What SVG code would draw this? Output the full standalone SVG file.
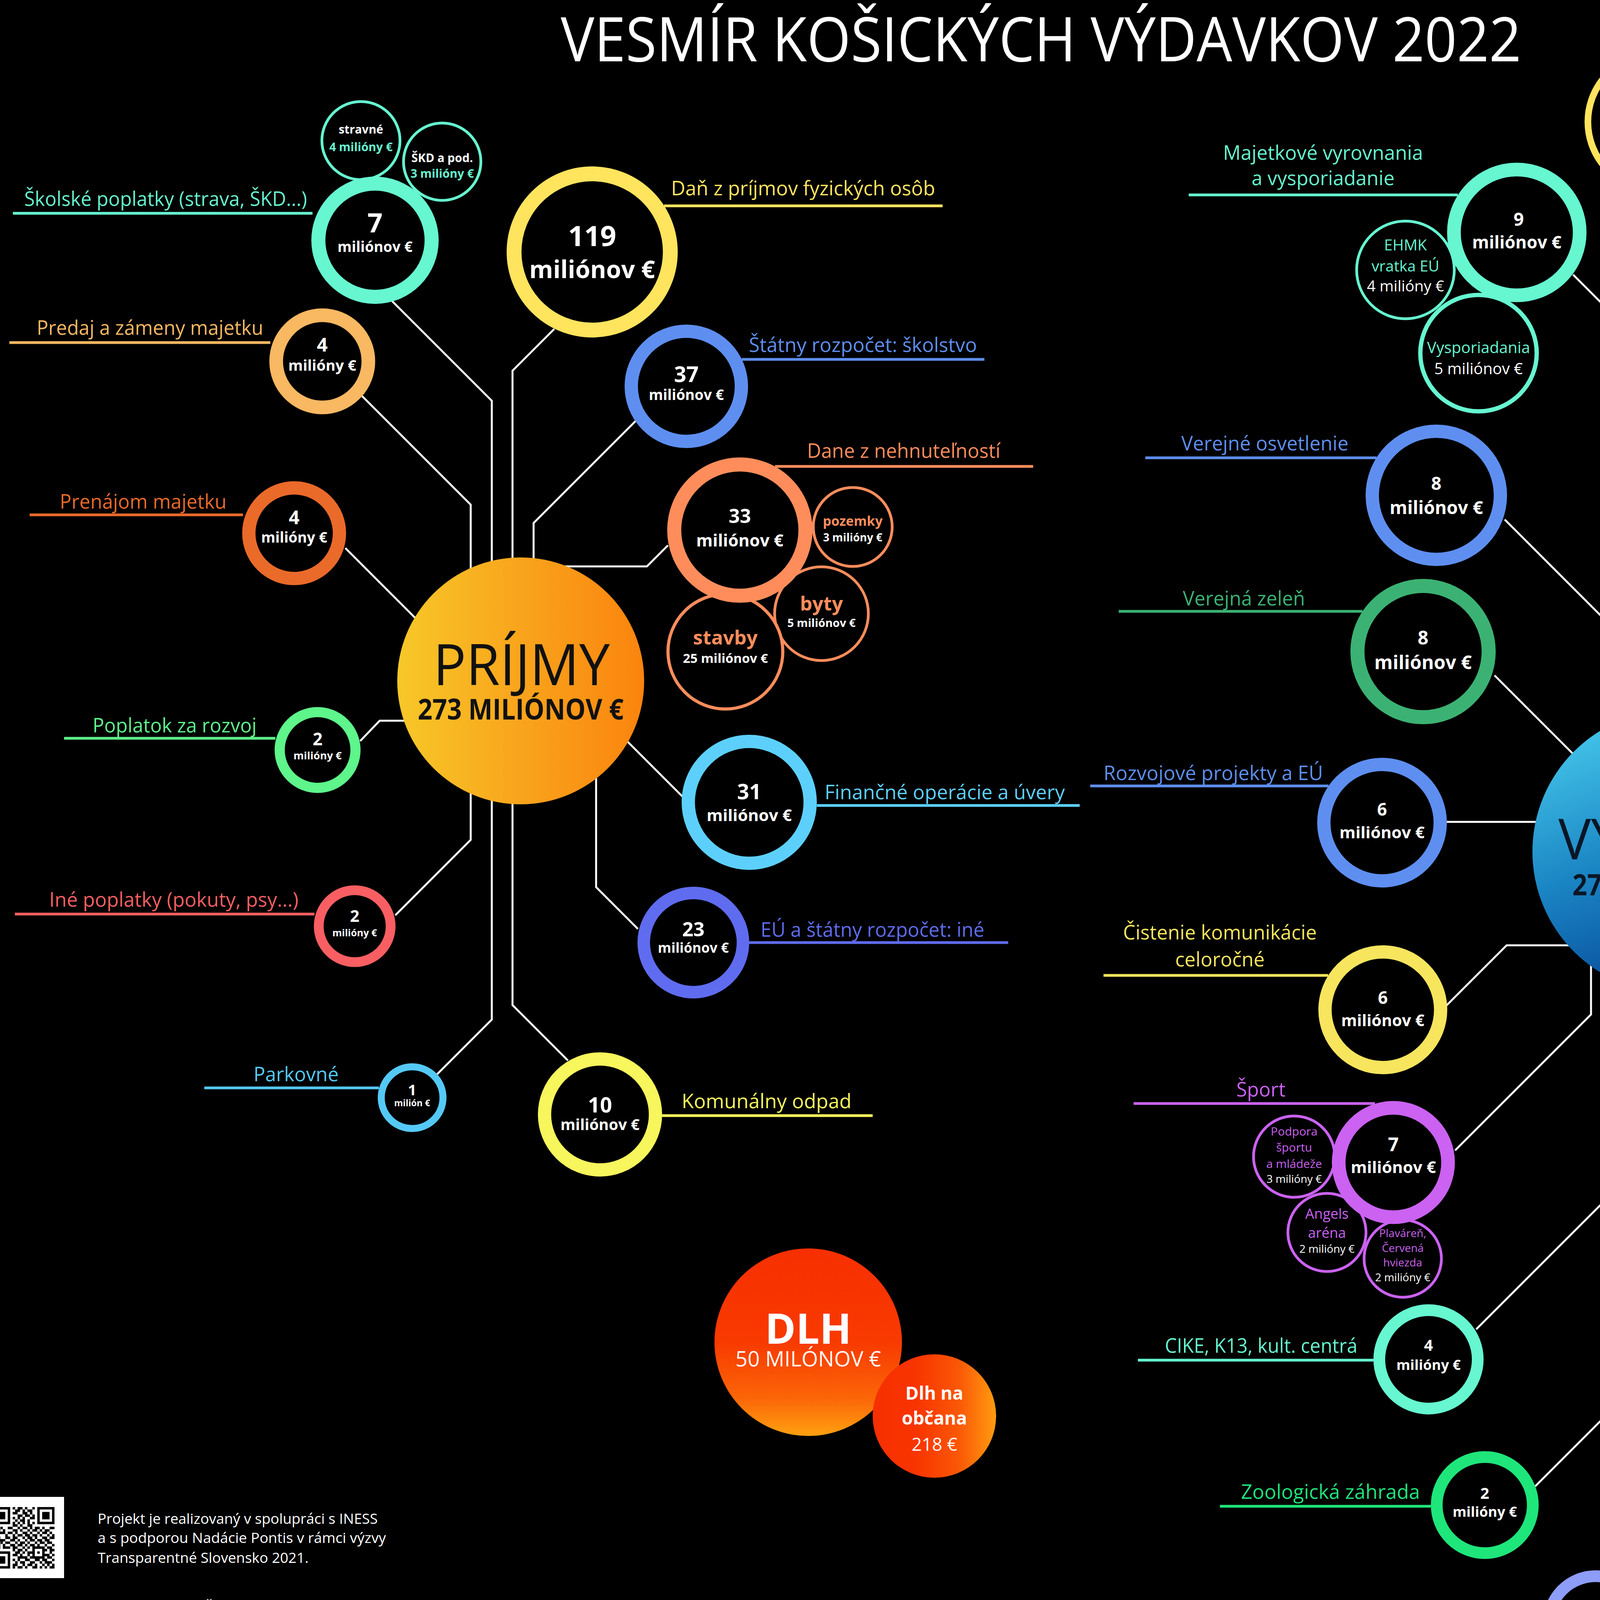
<svg xmlns="http://www.w3.org/2000/svg" width="5987" height="4416" viewBox="0 0 5987 4416">
<defs>
<style>
text{font-family:'Open Sans','Noto Sans','DejaVu Sans',sans-serif}
.t{font-size:52px}
.m{text-anchor:middle}
.b{font-weight:700}
.w{fill:#fff}
.ring{fill:#000}
.conn{fill:none;stroke:#fff;stroke-width:5}
.ul{stroke-width:7;fill:none}
.cr{font-size:36px;fill:#fff}
.f-mint{fill:#66F7D0}.s-mint{stroke:#66F7D0}
.f-peach{fill:#F9B862}.s-peach{stroke:#F9B862}
.f-orng{fill:#EA6A2A}.s-orng{stroke:#EA6A2A}
.f-grn{fill:#5EF58B}.s-grn{stroke:#5EF58B}
.f-red{fill:#F95F62}.s-red{stroke:#F95F62}
.f-sky{fill:#55C9F6}.s-sky{stroke:#55C9F6}
.f-yel{fill:#FFE45E}.s-yel{stroke:#FFE45E}
.f-blu{fill:#5E8FF0}.s-blu{stroke:#5E8FF0}
.f-sal{fill:#FF8D5C}.s-sal{stroke:#FF8D5C}
.f-cyn{fill:#5CD0FB}.s-cyn{stroke:#5CD0FB}
.f-ind{fill:#5F6CF0}.s-ind{stroke:#5F6CF0}
.f-lem{fill:#F7F65C}.s-lem{stroke:#F7F65C}
.f-mag{fill:#EC17E6}.s-mag{stroke:#EC17E6}
.f-gold{fill:#FFD42A}.s-gold{stroke:#FFD42A}
.f-zel{fill:#3BB273}.s-zel{stroke:#3BB273}
.f-pur{fill:#CB62F2}.s-pur{stroke:#CB62F2}
.f-zoo{fill:#1EE67A}.s-zoo{stroke:#1EE67A}
.f-per{fill:#8D9DF8}.s-per{stroke:#8D9DF8}
.f-cis{fill:#F7E55E}.s-cis{stroke:#F7E55E}
</style>
<linearGradient id="gP" x1="0" y1="0" x2="1" y2="0"><stop offset="0" stop-color="#F7C828"/><stop offset="0.5" stop-color="#F9A41C"/><stop offset="1" stop-color="#FA840E"/></linearGradient>
<linearGradient id="gV" x1="0.3" y1="0" x2="0.7" y2="1"><stop offset="0" stop-color="#45C6EA"/><stop offset="0.45" stop-color="#1B86C4"/><stop offset="0.8" stop-color="#0B57A2"/><stop offset="1" stop-color="#0A4E9A"/></linearGradient>
<linearGradient id="gD" x1="0" y1="0" x2="0" y2="1"><stop offset="0" stop-color="#F72F00"/><stop offset="0.5" stop-color="#F83A00"/><stop offset="0.8" stop-color="#FB6608"/><stop offset="1" stop-color="#FFA010"/></linearGradient>
<linearGradient id="gO" x1="0" y1="0" x2="1" y2="0"><stop offset="0" stop-color="#F72F00"/><stop offset="0.35" stop-color="#F83400"/><stop offset="0.7" stop-color="#FA5806"/><stop offset="1" stop-color="#FF9C10"/></linearGradient>
</defs>
<rect width="5987" height="4416" fill="#000"/>

<text x="2665" y="157" class="m w" font-size="158" textLength="2459" lengthAdjust="spacingAndGlyphs">VESMÍR KOŠICKÝCH VÝDAVKOV 2022</text>

<g id="connectors" class="conn">
<polyline points="1004,771 1259,1026 1259,1600"/>
<polyline points="926,1013 1205,1292 1205,1600"/>
<polyline points="884,1403 1100,1619"/>
<polyline points="1419,842 1312,949 1312,1600"/>
<polyline points="1627,1078 1366,1339 1366,1600"/>
<polyline points="1710,1396 1656,1450 1340,1450"/>
<polyline points="922,1897 972,1845 1100,1845"/>
<polyline points="1012,2343 1205,2150 1205,1900"/>
<polyline points="1119,2750 1259,2610 1259,1900"/>
<polyline points="1454,2715 1312,2573 1312,1900"/>
<polyline points="1633,2378 1526,2271 1526,1900"/>
<polyline points="1747,2039 1560,1852"/>
<polyline points="4027,703 4250,926 4250,1950"/>
<polyline points="4387,779 4302,864 4302,1950"/>
<polyline points="4821,1117 4348,1590 4348,1950"/>
<polyline points="4890,1576 4500,1966"/>
<polyline points="4500,2150 4775,2150"/>
<polyline points="4500,2402 4896,2402 4990,2496"/>
<polyline points="4521,2400 4521,2724 4835,3038"/>
<polyline points="4459,2450 4459,2907 4934,3382"/>
<polyline points="4392,2450 4392,3550 4631,3789"/>
<polyline points="4330,2450 4330,3968 4448,4086"/>
<polyline points="4267,2450 4267,3970 4180,4057"/>
<polyline points="4203,2450 4203,3532 3930,3805"/>
<polyline points="4137,2450 4137,3045 3779,3403"/>
<polyline points="4073,2400 4073,2597 3725,2945"/>
<polyline points="4100,2420 3857,2420 3700,2577"/>
<polyline points="3700,2104 4000,2104"/>
<polyline points="3826,1729 4050,1953"/>
<polyline points="3852,1330 4198,1676 4198,1950"/>
</g>

<g id="n-skolske">
<line class="ul s-mint" x1="33" y1="546" x2="800" y2="546"/>
<text class="t f-mint" x="62" y="527" textLength="724" lengthAdjust="spacingAndGlyphs">Školské poplatky (strava, ŠKD...)</text>
<circle class="ring s-mint" cx="924" cy="360" r="100" stroke-width="7"/>
<text class="m b w" x="924" y="342" font-size="30">stravné</text>
<text class="m b f-mint" x="924" y="387" font-size="30">4 milióny €</text>
<circle class="ring s-mint" cx="1132" cy="414" r="99" stroke-width="7"/>
<text class="m b w" x="1132" y="415" font-size="30">ŠKD a pod.</text>
<text class="m b f-mint" x="1132" y="455" font-size="30">3 milióny €</text>
<circle class="ring s-mint" cx="960" cy="615" r="145" stroke-width="36"/>
<text class="m b w" x="960" y="595" font-size="68">7</text>
<text class="m b w" x="960" y="645" font-size="37">miliónov €</text>
</g>

<g id="n-predaj">
<line class="ul s-peach" x1="24" y1="877" x2="692" y2="877"/>
<text class="t f-peach" x="94" y="857" textLength="580" lengthAdjust="spacingAndGlyphs">Predaj a zámeny majetku</text>
<circle class="ring s-peach" cx="825" cy="925" r="118" stroke-width="35"/>
<text class="m b w" x="825" y="900" font-size="48">4</text>
<text class="m b w" x="825" y="949" font-size="38">milióny €</text>
</g>

<g id="n-prenajom">
<line class="ul s-orng" x1="76" y1="1318" x2="622" y2="1318"/>
<text class="t f-orng" x="153" y="1302" textLength="427" lengthAdjust="spacingAndGlyphs">Prenájom majetku</text>
<circle class="ring s-orng" cx="753" cy="1365" r="116" stroke-width="34"/>
<text class="m b w" x="753" y="1342" font-size="48">4</text>
<text class="m b w" x="753" y="1389" font-size="37">milióny €</text>
</g>

<g id="n-rozvoj">
<line class="ul s-grn" x1="164" y1="1890" x2="705" y2="1890"/>
<text class="t f-grn" x="237" y="1875" textLength="420" lengthAdjust="spacingAndGlyphs">Poplatok za rozvoj</text>
<circle class="ring s-grn" cx="813" cy="1920" r="97" stroke-width="26"/>
<text class="m b w" x="813" y="1908" font-size="44">2</text>
<text class="m b w" x="813" y="1944" font-size="27">milióny €</text>
</g>

<g id="n-ine-poplatky">
<line class="ul s-red" x1="38" y1="2340" x2="805" y2="2340"/>
<text class="t f-red" x="126" y="2321" textLength="638" lengthAdjust="spacingAndGlyphs">Iné poplatky (pokuty, psy...)</text>
<circle class="ring s-red" cx="908" cy="2371" r="92" stroke-width="25"/>
<text class="m b w" x="908" y="2360" font-size="42">2</text>
<text class="m b w" x="908" y="2397" font-size="25">milióny €</text>
</g>

<g id="n-parkovne">
<line class="ul s-sky" x1="523" y1="2785" x2="970" y2="2785"/>
<text class="t f-sky" x="649" y="2768" textLength="218" lengthAdjust="spacingAndGlyphs">Parkovné</text>
<circle class="ring s-sky" cx="1055" cy="2810" r="79" stroke-width="18"/>
<text class="m b w" x="1055" y="2804" font-size="38">1</text>
<text class="m b w" x="1055" y="2832" font-size="23">milión €</text>
</g>

<g id="n-dan">
<line class="ul s-yel" x1="1700" y1="527" x2="2413" y2="527"/>
<text class="t f-yel" x="1718" y="500" textLength="676" lengthAdjust="spacingAndGlyphs">Daň z príjmov fyzických osôb</text>
<circle class="ring s-yel" cx="1516" cy="645" r="200" stroke-width="38"/>
<text class="m b w" x="1516" y="630" font-size="72">119</text>
<text class="m b w" x="1516" y="712" font-size="62">miliónov €</text>
</g>

<g id="n-skolstvo">
<line class="ul s-blu" x1="1899" y1="920" x2="2520" y2="920"/>
<text class="t f-blu" x="1917" y="901" textLength="584" lengthAdjust="spacingAndGlyphs">Štátny rozpočet: školstvo</text>
<circle class="ring s-blu" cx="1757" cy="989" r="141" stroke-width="34"/>
<text class="m b w" x="1757" y="978" font-size="55">37</text>
<text class="m b w" x="1757" y="1024" font-size="37">miliónov €</text>
</g>

<g id="n-nehnutelnosti">
<line class="ul s-sal" x1="1984" y1="1194" x2="2645" y2="1194"/>
<text class="t f-sal" x="2066" y="1172" textLength="495" lengthAdjust="spacingAndGlyphs">Dane z nehnuteľností</text>
<circle class="ring s-sal" cx="2183" cy="1349" r="101" stroke-width="7"/>
<text class="m b f-sal" x="2183" y="1346" font-size="34">pozemky</text>
<text class="m b w" x="2183" y="1386" font-size="28">3 milióny €</text>
<circle class="ring s-sal" cx="2103" cy="1571" r="120" stroke-width="7"/>
<text class="m b f-sal" x="2103" y="1563" font-size="50">byty</text>
<text class="m b w" x="2103" y="1605" font-size="29">5 miliónov €</text>
<circle class="ring s-sal" cx="1857" cy="1668" r="147" stroke-width="8"/>
<text class="m b f-sal" x="1857" y="1650" font-size="50">stavby</text>
<text class="m b w" x="1857" y="1697" font-size="33">25 miliónov €</text>
<circle class="ring s-sal" cx="1894" cy="1357" r="168" stroke-width="36"/>
<text class="m b w" x="1894" y="1339" font-size="50">33</text>
<text class="m b w" x="1894" y="1399" font-size="43">miliónov €</text>
</g>

<g id="n-financne">
<line class="ul s-cyn" x1="2091" y1="2062" x2="2764" y2="2062"/>
<text class="t f-cyn" x="2111" y="2046" textLength="615" lengthAdjust="spacingAndGlyphs">Finančné operácie a úvery</text>
<circle class="ring s-cyn" cx="1918" cy="2054" r="156" stroke-width="34"/>
<text class="m b w" x="1918" y="2046" font-size="54">31</text>
<text class="m b w" x="1918" y="2102" font-size="42">miliónov €</text>
</g>

<g id="n-eu-ine">
<line class="ul s-ind" x1="1918" y1="2413" x2="2581" y2="2413"/>
<text class="t f-ind" x="1947" y="2398" textLength="573" lengthAdjust="spacingAndGlyphs">EÚ a štátny rozpočet: iné</text>
<circle class="ring s-ind" cx="1775" cy="2413" r="127" stroke-width="32"/>
<text class="m b w" x="1775" y="2397" font-size="50">23</text>
<text class="m b w" x="1775" y="2439" font-size="35">miliónov €</text>
</g>

<g id="n-odpad-l">
<line class="ul s-lem" x1="1695" y1="2856" x2="2234" y2="2856"/>
<text class="t f-lem" x="1745" y="2837" textLength="435" lengthAdjust="spacingAndGlyphs">Komunálny odpad</text>
<circle class="ring s-lem" cx="1536" cy="2853" r="142" stroke-width="34"/>
<text class="m b w" x="1536" y="2848" font-size="54">10</text>
<text class="m b w" x="1536" y="2893" font-size="39">miliónov €</text>
</g>

<g id="hub-prijmy">
<circle cx="1333" cy="1743" r="316" fill="url(#gP)"/>
<text class="m" x="1335" y="1754" font-size="146" fill="#111" textLength="452" lengthAdjust="spacingAndGlyphs">PRÍJMY</text>
<text class="m b" x="1333" y="1842" font-size="74" fill="#111" textLength="527" lengthAdjust="spacingAndGlyphs">273 MILIÓNOV €</text>
</g>

<g id="n-dlh">
<circle cx="2069" cy="3436" r="240" fill="url(#gD)"/>
<text class="m b w" x="2069" y="3440" font-size="107">DLH</text>
<text class="m w" x="2069" y="3498" font-size="55" textLength="373" lengthAdjust="spacingAndGlyphs">50 MILÓNOV €</text>
</g>
<g id="n-dlh-obcan">
<circle cx="2392" cy="3625" r="158" fill="url(#gO)"/>
<text class="m b w" x="2392" y="3583" font-size="46">Dlh na</text>
<text class="m b w" x="2392" y="3647" font-size="46">občana</text>
<text class="m w" x="2392" y="3714" font-size="46">218 €</text>
</g>

<g id="n-majetkove">
<line class="ul s-mint" x1="3043" y1="499" x2="3732" y2="499"/>
<text class="t m f-mint" x="3387" y="409" textLength="512" lengthAdjust="spacingAndGlyphs">Majetkové vyrovnania</text>
<text class="t m f-mint" x="3387" y="474" textLength="366" lengthAdjust="spacingAndGlyphs">a vysporiadanie</text>
<circle class="ring s-mint" cx="3598" cy="691" r="125" stroke-width="7"/>
<text class="m f-mint" x="3598" y="641" font-size="39">EHMK</text>
<text class="m f-mint" x="3598" y="695" font-size="39">vratka EÚ</text>
<text class="m w" x="3598" y="746" font-size="39">4 milióny €</text>
<circle class="ring s-mint" cx="3785" cy="904" r="149" stroke-width="11"/>
<text class="m f-mint" x="3785" y="904" font-size="40">Vysporiadania</text>
<text class="m w" x="3785" y="958" font-size="40">5 miliónov €</text>
<circle class="ring s-mint" cx="3883" cy="595" r="161" stroke-width="35"/>
<text class="m b w" x="3888" y="578" font-size="46">9</text>
<text class="m b w" x="3883" y="636" font-size="44">miliónov €</text>
</g>

<g id="n-skoly">
<line class="ul s-yel" x1="4638" y1="350" x2="5194" y2="350"/>
<text class="t f-yel" x="4671" y="331" textLength="502" lengthAdjust="spacingAndGlyphs">MŠ, ZŠ, ZUŠ, jedálne...</text>
<circle class="ring s-yel" cx="4240" cy="312" r="175" stroke-width="17"/>
<text class="m f-yel" x="4240" y="262" font-size="41">ZŠ, ŠKD</text>
<text class="m f-yel" x="4240" y="317" font-size="41">a jedálne</text>
<text class="m b w" x="4240" y="370" font-size="38">49 miliónov €</text>
<circle class="ring s-yel" cx="4547" cy="183" r="147" stroke-width="16"/>
<text class="m f-yel" x="4547" y="177" font-size="40">MŠ a jedálne</text>
<text class="m b w" x="4547" y="230" font-size="38">34 miliónov €</text>
<circle class="ring s-yel" cx="4904" cy="490" r="102" stroke-width="9"/>
<text class="m f-yel" x="4904" y="461" font-size="38">Súkr. a</text>
<text class="m f-yel" x="4904" y="516" font-size="38">cirk. školy</text>
<text class="m b w" x="4904" y="549" font-size="26">8 miliónov €</text>
<circle class="ring s-yel" cx="4893" cy="697" r="95" stroke-width="9"/>
<text class="m f-yel" x="4893" y="688" font-size="40">ZUŠ</text>
<text class="m b w" x="4893" y="722" font-size="26">5 miliónov €</text>
<circle class="ring s-yel" cx="4782" cy="865" r="95" stroke-width="8"/>
<text class="m f-yel" x="4782" y="850" font-size="42">CVČ</text>
<text class="m b w" x="4782" y="887" font-size="26">2 milióny €</text>
<circle class="ring s-yel" cx="4603" cy="940" r="96" stroke-width="8"/>
<text class="m f-yel" x="4603" y="933" font-size="40">iné</text>
<text class="m b w" x="4603" y="968" font-size="25">1 milión €</text>
<circle class="ring s-yel" cx="4565" cy="594" r="232" stroke-width="42"/>
<text class="m b w" x="4565" y="579" font-size="62">99</text>
<text class="m b w" x="4565" y="653" font-size="57">miliónov €</text>
</g>

<g id="n-mhd">
<line class="ul s-sal" x1="5214" y1="1054" x2="5803" y2="1054"/>
<text class="t f-sal" x="5238" y="1035" textLength="546" lengthAdjust="spacingAndGlyphs">Mestská hrom. doprava</text>
<circle class="ring s-sal" cx="5030" cy="1122" r="178" stroke-width="36"/>
<text class="m b w" x="5030" y="1111" font-size="54">26</text>
<text class="m b w" x="5030" y="1176" font-size="52">miliónov €</text>
</g>

<g id="n-mzdy">
<line class="ul s-mag" x1="5258" y1="1472" x2="5795" y2="1472"/>
<text class="t f-mag" x="5264" y="1454" textLength="528" lengthAdjust="spacingAndGlyphs">Mzdy a správa majetku</text>
<circle class="ring s-mag" cx="5457" cy="1667" r="180" stroke-width="17"/>
<text class="m f-mag" x="5457" y="1599" font-size="56">mzdy</text>
<text class="m f-mag" x="5457" y="1673" font-size="54">magistrát</text>
<text class="m b w" x="5457" y="1733" font-size="45">13 miliónov €</text>
<circle class="ring s-mag" cx="4972" cy="1824" r="105" stroke-width="8"/>
<text class="m f-mag" x="4972" y="1771" font-size="30">IT a</text>
<text class="m f-mag" x="4972" y="1813" font-size="30">informatické</text>
<text class="m f-mag" x="4972" y="1853" font-size="30">systémy</text>
<text class="m w" x="4972" y="1892" font-size="27">2 milióny €</text>
<circle class="ring s-mag" cx="5201" cy="1826" r="116" stroke-width="11"/>
<text class="m f-mag" x="5201" y="1787" font-size="37">energie</text>
<text class="m f-mag" x="5201" y="1836" font-size="37">a údržba</text>
<text class="m w" x="5201" y="1874" font-size="28">3 milióny €</text>
<circle class="ring s-mag" cx="5078" cy="1537" r="173" stroke-width="36"/>
<text class="m b w" x="5078" y="1523" font-size="48">21</text>
<text class="m b w" x="5078" y="1583" font-size="46">miliónov €</text>
</g>

<g id="n-mestske-casti">
<line class="ul s-blu" x1="5175" y1="2138" x2="5853" y2="2138"/>
<text class="t f-blu" x="5204" y="2119" textLength="607" lengthAdjust="spacingAndGlyphs">Mestské časti (kompletne)</text>
<circle class="ring s-blu" cx="4973" cy="2152" r="184" stroke-width="36"/>
<text class="m b w" x="4973" y="2133" font-size="56">16</text>
<text class="m b w" x="4973" y="2200" font-size="53">miliónov €</text>
</g>

<g id="n-eu-doprava">
<line class="ul s-gold" x1="5344" y1="2436" x2="5985" y2="2436"/>
<text class="t f-gold" x="5378" y="2420" textLength="569" lengthAdjust="spacingAndGlyphs">EÚ investície do dopravy</text>
<circle class="ring s-gold" cx="5435" cy="2595" r="101" stroke-width="16"/>
<text class="m f-gold" x="5435" y="2585" font-size="28">Slanecká</text>
<text class="m w" x="5435" y="2622" font-size="28">6 miliónov €</text>
<circle class="ring s-gold" cx="5302" cy="2729" r="84" stroke-width="10"/>
<text class="m f-gold" x="5302" y="2704" font-size="23">Modern.</text>
<text class="m f-gold" x="5302" y="2733" font-size="23">MHD</text>
<text class="m w" x="5302" y="2762" font-size="23">4 milióny €</text>
<circle class="ring s-gold" cx="5135" cy="2758" r="80" stroke-width="7"/>
<text class="m f-gold" x="5135" y="2758" font-size="22">Cyklochodníky</text>
<text class="m w" x="5135" y="2785" font-size="21">3 milióny €</text>
<circle class="ring s-gold" cx="5171" cy="2499" r="165" stroke-width="36"/>
<text class="m b w" x="5171" y="2485" font-size="48">13</text>
<text class="m b w" x="5171" y="2545" font-size="44">miliónov €</text>
</g>

<g id="n-odpad-r">
<line class="ul s-peach" x1="5208" y1="2995" x2="5732" y2="2995"/>
<text class="t f-peach" x="5257" y="2980" textLength="426" lengthAdjust="spacingAndGlyphs">Komunálny odpad</text>
<circle class="ring s-peach" cx="5022" cy="3015" r="171" stroke-width="36"/>
<text class="m b w" x="5022" y="3003" font-size="48">13</text>
<text class="m b w" x="5022" y="3063" font-size="45">miliónov €</text>
</g>

<g id="n-socialne">
<line class="ul s-red" x1="5281" y1="3352" x2="5794" y2="3352"/>
<text class="t f-red" x="5363" y="3336" textLength="354" lengthAdjust="spacingAndGlyphs">Sociálne služby</text>
<circle class="ring s-red" cx="5298" cy="3210" r="95" stroke-width="10"/>
<text class="m f-red" x="5298" y="3178" font-size="24">Soc. služby:</text>
<text class="m f-red" x="5298" y="3211" font-size="24">terénne opatr.</text>
<text class="m w" x="5298" y="3243" font-size="24">4 milióny €</text>
<circle class="ring s-red" cx="5380" cy="3475" r="97" stroke-width="10"/>
<text class="m f-red" x="5380" y="3444" font-size="25">Soc. služby:</text>
<text class="m f-red" x="5380" y="3479" font-size="25">obnova budov</text>
<text class="m w" x="5380" y="3511" font-size="25">4 milióny €</text>
<circle class="ring s-red" cx="5272" cy="3633" r="87" stroke-width="8"/>
<text class="m f-red" x="5272" y="3585" font-size="23">Stred.</text>
<text class="m f-red" x="5272" y="3617" font-size="23">sociálnej</text>
<text class="m f-red" x="5272" y="3648" font-size="23">pomoci</text>
<text class="m w" x="5272" y="3678" font-size="23">3 milióny €</text>
<circle class="ring s-red" cx="5107" cy="3679" r="77" stroke-width="5"/>
<text class="m f-red" x="5107" y="3655" font-size="19">Sociálne</text>
<text class="m f-red" x="5107" y="3680" font-size="19">služby: iné</text>
<text class="m w" x="5107" y="3704" font-size="19">2 milióny €</text>
<circle class="ring s-red" cx="5108" cy="3412" r="166" stroke-width="36"/>
<text class="m b w" x="5108" y="3402" font-size="48">13</text>
<text class="m b w" x="5108" y="3460" font-size="44">miliónov €</text>
</g>

<g id="n-udrzba">
<line class="ul s-yel" x1="4908" y1="3858" x2="5579" y2="3858"/>
<text class="t f-yel" x="4929" y="3841" textLength="584" lengthAdjust="spacingAndGlyphs">Údržba komunikácii a iné</text>
<circle class="ring s-yel" cx="5006" cy="3997" r="113" stroke-width="8"/>
<text class="m f-yel" x="5006" y="3963" font-size="30">Cintorín</text>
<text class="m f-yel" x="5006" y="4004" font-size="30">- vstup</text>
<text class="m w" x="5006" y="4045" font-size="30">1 milióny €</text>
<circle class="ring s-yel" cx="4750" cy="3893" r="146" stroke-width="36"/>
<text class="m b w" x="4750" y="3883" font-size="42">11</text>
<text class="m b w" x="4750" y="3933" font-size="39">miliónov €</text>
</g>

<g id="n-policia">
<line class="ul s-mint" x1="4642" y1="4239" x2="5294" y2="4239"/>
<text class="t f-mint" x="4669" y="4221" textLength="552" lengthAdjust="spacingAndGlyphs">Mestská polícia, kamery</text>
<circle class="ring s-mint" cx="4475" cy="4258" r="153" stroke-width="34"/>
<text class="m b w" x="4475" y="4238" font-size="42">9</text>
<text class="m b w" x="4475" y="4292" font-size="37">miliónov €</text>
</g>

<g id="n-osvetlenie">
<line class="ul s-blu" x1="2932" y1="1172" x2="3524" y2="1172"/>
<text class="t f-blu" x="3024" y="1153" textLength="428" lengthAdjust="spacingAndGlyphs">Verejné osvetlenie</text>
<circle class="ring s-blu" cx="3677" cy="1268" r="164" stroke-width="34"/>
<text class="m b w" x="3677" y="1254" font-size="46">8</text>
<text class="m b w" x="3677" y="1316" font-size="46">miliónov €</text>
</g>

<g id="n-zelen">
<line class="ul s-zel" x1="2864" y1="1565" x2="3488" y2="1565"/>
<text class="t f-zel" x="3028" y="1550" textLength="313" lengthAdjust="spacingAndGlyphs">Verejná zeleň</text>
<circle class="ring s-zel" cx="3643" cy="1668" r="168" stroke-width="36"/>
<text class="m b w" x="3643" y="1650" font-size="48">8</text>
<text class="m b w" x="3643" y="1713" font-size="48">miliónov €</text>
</g>

<g id="n-rozvojove">
<line class="ul s-blu" x1="2791" y1="2012" x2="3401" y2="2012"/>
<text class="t f-blu" x="2825" y="1997" textLength="562" lengthAdjust="spacingAndGlyphs">Rozvojové projekty a EÚ</text>
<circle class="ring s-blu" cx="3538" cy="2106" r="149" stroke-width="34"/>
<text class="m b w" x="3538" y="2088" font-size="44">6</text>
<text class="m b w" x="3538" y="2146" font-size="42">miliónov €</text>
</g>

<g id="n-cistenie">
<line class="ul s-cis" x1="2825" y1="2497" x2="3400" y2="2497"/>
<text class="t m f-cis" x="3123" y="2405" textLength="496" lengthAdjust="spacingAndGlyphs">Čistenie komunikácie</text>
<text class="t m f-cis" x="3123" y="2474" textLength="229" lengthAdjust="spacingAndGlyphs">celoročné</text>
<circle class="ring s-cis" cx="3540" cy="2585" r="148" stroke-width="34"/>
<text class="m b w" x="3540" y="2570" font-size="44">6</text>
<text class="m b w" x="3540" y="2627" font-size="41">miliónov €</text>
</g>

<g id="n-sport">
<line class="ul s-pur" x1="2902" y1="2825" x2="3520" y2="2825"/>
<text class="t f-pur" x="3165" y="2807" textLength="126" lengthAdjust="spacingAndGlyphs">Šport</text>
<circle class="ring s-pur" cx="3313" cy="2961" r="104" stroke-width="7"/>
<text class="m f-pur" x="3313" y="2907" font-size="30">Podpora</text>
<text class="m f-pur" x="3313" y="2948" font-size="30">športu</text>
<text class="m f-pur" x="3313" y="2990" font-size="30">a mládeže</text>
<text class="m w" x="3313" y="3028" font-size="28">3 milióny €</text>
<circle class="ring s-pur" cx="3397" cy="3155" r="100" stroke-width="7"/>
<text class="m f-pur" x="3397" y="3120" font-size="36">Angels</text>
<text class="m f-pur" x="3397" y="3169" font-size="36">aréna</text>
<text class="m w" x="3397" y="3207" font-size="28">2 milióny €</text>
<circle class="ring s-pur" cx="3591" cy="3222" r="99" stroke-width="7"/>
<text class="m f-pur" x="3591" y="3167" font-size="28">Plaváreň,</text>
<text class="m f-pur" x="3591" y="3205" font-size="28">Červená</text>
<text class="m f-pur" x="3591" y="3242" font-size="28">hviezda</text>
<text class="m w" x="3591" y="3280" font-size="28">2 milióny €</text>
<circle class="ring s-pur" cx="3567" cy="2976" r="140" stroke-width="35"/>
<text class="m b w" x="3567" y="2947" font-size="48">7</text>
<text class="m b w" x="3567" y="3003" font-size="42">miliónov €</text>
</g>

<g id="n-kultura">
<line class="ul s-mint" x1="2913" y1="3482" x2="3516" y2="3482"/>
<text class="t f-mint" x="2982" y="3463" textLength="493" lengthAdjust="spacingAndGlyphs">CIKE, K13, kult. centrá</text>
<circle class="ring s-mint" cx="3657" cy="3480" r="126" stroke-width="30"/>
<text class="m b w" x="3657" y="3458" font-size="40">4</text>
<text class="m b w" x="3657" y="3507" font-size="36">milióny €</text>
</g>

<g id="n-zoo">
<line class="ul s-zoo" x1="3123" y1="3856" x2="3663" y2="3856"/>
<text class="t f-zoo" x="3177" y="3837" textLength="458" lengthAdjust="spacingAndGlyphs">Zoologická záhrada</text>
<circle class="ring s-zoo" cx="3801" cy="3853" r="123" stroke-width="30"/>
<text class="m b w" x="3801" y="3837" font-size="40">2</text>
<text class="m b w" x="3801" y="3883" font-size="36">milióny €</text>
</g>

<g id="n-primator">
<line class="ul s-per" x1="3329" y1="4173" x2="3950" y2="4173"/>
<text class="t f-per" x="3394" y="4158" textLength="550" lengthAdjust="spacingAndGlyphs">Primátor, zastupiteľstvo</text>
<circle class="ring s-per" cx="4085" cy="4156" r="121" stroke-width="30"/>
<text class="m b w" x="4085" y="4135" font-size="40">1</text>
<text class="m b w" x="4085" y="4181" font-size="36">milión €</text>
</g>

<g id="hub-vydavky">
<circle cx="4285" cy="2180" r="362" fill="url(#gV)"/>
<text class="m" x="4288" y="2200" font-size="145" fill="#0A1626" textLength="597" lengthAdjust="spacingAndGlyphs">VÝDAVKY</text>
<text class="m b" x="4290" y="2292" font-size="76" fill="#0A1626" textLength="529" lengthAdjust="spacingAndGlyphs">272 MILIÓNOV €</text>
</g>

<g id="qr">
<rect x="-20" y="3832" width="184" height="208" fill="#fff"/>
<path fill="#000" transform="translate(-18 3858) scale(6.3)" d="M0 0h7v1h-7zM8 0h1v1h-1zM10 0h2v1h-2zM13 0h1v1h-1zM16 0h1v1h-1zM18 0h7v1h-7z
M0 1h1v1h-1zM6 1h1v1h-1zM9 1h2v1h-2zM12 1h1v1h-1zM14 1h2v1h-2zM18 1h1v1h-1zM24 1h1v1h-1z
M0 2h1v1h-1zM2 2h3v1h-3zM6 2h1v1h-1zM8 2h2v1h-2zM12 2h2v1h-2zM15 2h1v1h-1zM18 2h1v1h-1zM20 2h3v1h-3zM24 2h1v1h-1z
M0 3h1v1h-1zM2 3h3v1h-3zM6 3h1v1h-1zM10 3h2v1h-2zM13 3h2v1h-2zM16 3h1v1h-1zM18 3h1v1h-1zM20 3h3v1h-3zM24 3h1v1h-1z
M0 4h1v1h-1zM2 4h3v1h-3zM6 4h1v1h-1zM8 4h1v1h-1zM10 4h1v1h-1zM12 4h1v1h-1zM15 4h2v1h-2zM18 4h1v1h-1zM20 4h3v1h-3zM24 4h1v1h-1z
M0 5h1v1h-1zM6 5h1v1h-1zM9 5h1v1h-1zM11 5h2v1h-2zM14 5h1v1h-1zM18 5h1v1h-1zM24 5h1v1h-1z
M0 6h7v1h-7zM8 6h1v1h-1zM10 6h1v1h-1zM12 6h1v1h-1zM14 6h1v1h-1zM16 6h1v1h-1zM18 6h7v1h-7z
M8 7h2v1h-2zM11 7h1v1h-1zM14 7h2v1h-2z
M0 8h2v1h-2zM3 8h1v1h-1zM6 8h2v1h-2zM10 8h1v1h-1zM12 8h2v1h-2zM15 8h1v1h-1zM17 8h2v1h-2zM20 8h1v1h-1zM23 8h2v1h-2z
M1 9h2v1h-2zM4 9h1v1h-1zM8 9h2v1h-2zM11 9h1v1h-1zM14 9h1v1h-1zM16 9h2v1h-2zM19 9h1v1h-1zM21 9h2v1h-2z
M0 10h1v1h-1zM2 10h3v1h-3zM6 10h2v1h-2zM9 10h1v1h-1zM12 10h2v1h-2zM15 10h1v1h-1zM18 10h1v1h-1zM20 10h2v1h-2zM23 10h1v1h-1z
M1 11h1v1h-1zM5 11h1v1h-1zM8 11h1v1h-1zM10 11h2v1h-2zM13 11h2v1h-2zM16 11h2v1h-2zM19 11h1v1h-1zM22 11h1v1h-1zM24 11h1v1h-1z
M0 12h3v1h-3zM5 12h2v1h-2zM8 12h2v1h-2zM12 12h1v1h-1zM14 12h2v1h-2zM17 12h1v1h-1zM20 12h2v1h-2zM23 12h2v1h-2z
M2 13h3v1h-3zM7 13h2v1h-2zM10 13h1v1h-1zM13 13h1v1h-1zM15 13h2v1h-2zM18 13h2v1h-2zM21 13h2v1h-2z
M0 14h1v1h-1zM3 14h1v1h-1zM5 14h2v1h-2zM9 14h1v1h-1zM11 14h2v1h-2zM14 14h1v1h-1zM17 14h1v1h-1zM19 14h2v1h-2zM22 14h2v1h-2z
M1 15h2v1h-2zM4 15h1v1h-1zM7 15h2v1h-2zM10 15h2v1h-2zM13 15h1v1h-1zM15 15h2v1h-2zM18 15h1v1h-1zM21 15h1v1h-1zM24 15h1v1h-1z
M0 16h1v1h-1zM2 16h1v1h-1zM4 16h3v1h-3zM8 16h2v1h-2zM12 16h1v1h-1zM14 16h1v1h-1zM16 16h5v1h-5zM22 16h2v1h-2z
M8 17h1v1h-1zM10 17h2v1h-2zM13 17h1v1h-1zM16 17h1v1h-1zM20 17h2v1h-2zM23 17h2v1h-2z
M0 18h7v1h-7zM9 18h2v1h-2zM12 18h1v1h-1zM14 18h3v1h-3zM18 18h1v1h-1zM20 18h1v1h-1zM23 18h1v1h-1z
M0 19h1v1h-1zM6 19h1v1h-1zM8 19h2v1h-2zM11 19h1v1h-1zM14 19h1v1h-1zM16 19h1v1h-1zM20 19h3v1h-3zM24 19h1v1h-1z
M0 20h1v1h-1zM2 20h3v1h-3zM6 20h1v1h-1zM10 20h4v1h-4zM15 20h6v1h-6zM22 20h2v1h-2z
M0 21h1v1h-1zM2 21h3v1h-3zM6 21h1v1h-1zM8 21h1v1h-1zM10 21h1v1h-1zM13 21h2v1h-2zM17 21h2v1h-2zM20 21h2v1h-2zM24 21h1v1h-1z
M0 22h1v1h-1zM2 22h3v1h-3zM6 22h1v1h-1zM9 22h1v1h-1zM11 22h2v1h-2zM15 22h2v1h-2zM19 22h1v1h-1zM21 22h3v1h-3z
M0 23h1v1h-1zM6 23h1v1h-1zM8 23h2v1h-2zM12 23h1v1h-1zM14 23h2v1h-2zM17 23h1v1h-1zM20 23h1v1h-1zM22 23h1v1h-1zM24 23h1v1h-1z
M0 24h7v1h-7zM8 24h1v1h-1zM10 24h2v1h-2zM13 24h1v1h-1zM16 24h2v1h-2zM19 24h1v1h-1zM21 24h1v1h-1zM23 24h2v1h-2z"/>
</g>

<g id="credits">
<text class="cr" x="250" y="3901" textLength="717" lengthAdjust="spacingAndGlyphs">Projekt je realizovaný v spolupráci s INESS</text>
<text class="cr" x="250" y="3950" textLength="738" lengthAdjust="spacingAndGlyphs">a s podporou Nadácie Pontis v rámci výzvy</text>
<text class="cr" x="250" y="4001" textLength="540" lengthAdjust="spacingAndGlyphs">Transparentné Slovensko 2021.</text>
<text class="cr" x="0" y="4128" textLength="2044" lengthAdjust="spacingAndGlyphs">otoviteľ: Občianske združenie Ťahanovská záhrada, ďalšie informácie o ňom nájdete na www.TahanovskaZahrada.sk.</text>
<text class="cr" x="0" y="4179" textLength="2195" lengthAdjust="spacingAndGlyphs">aje boli spracované najmä na základe verejne dostupných údajov z samosprávnych rozpočtov a záverečných účtov doplnené</text>
<text class="cr" x="0" y="4230" textLength="2201" lengthAdjust="spacingAndGlyphs">onzultácie s jednotlivcami v okolí týchto inštitúcií, napr. poslancami, pracovníkmi týchto inštitúcií alebo na základe informácií</text>
<text class="cr" x="-8" y="4281" textLength="2320" lengthAdjust="spacingAndGlyphs">kaných z komisií pri samosprávnych zastupiteľstvách či cez tzv. infozákon. Ďakujeme všetkým zúčastneným za ochotu a spoluprácu.</text>
<text class="cr" x="-10" y="4332" textLength="2387" lengthAdjust="spacingAndGlyphs">zdý rozpočet podlieha počas roka niekoľkým väčším či menším zmenám a reálne plnenie rozpočtov je zobrazené až v záverečnom účte,</text>
<text class="cr" x="0" y="4383" textLength="2769" lengthAdjust="spacingAndGlyphs">rý je k dispozícii niekoľko mesiacov po skončení rozpočtovaného kalendárneho roka. Ďalšie informácie o metodike spracovania nájdete na www.kosicena.sk .</text>
</g>

<text x="5175" y="4351" class="w" font-size="114" textLength="840" lengthAdjust="spacingAndGlyphs">www.kosicena.sk</text>
</svg>
